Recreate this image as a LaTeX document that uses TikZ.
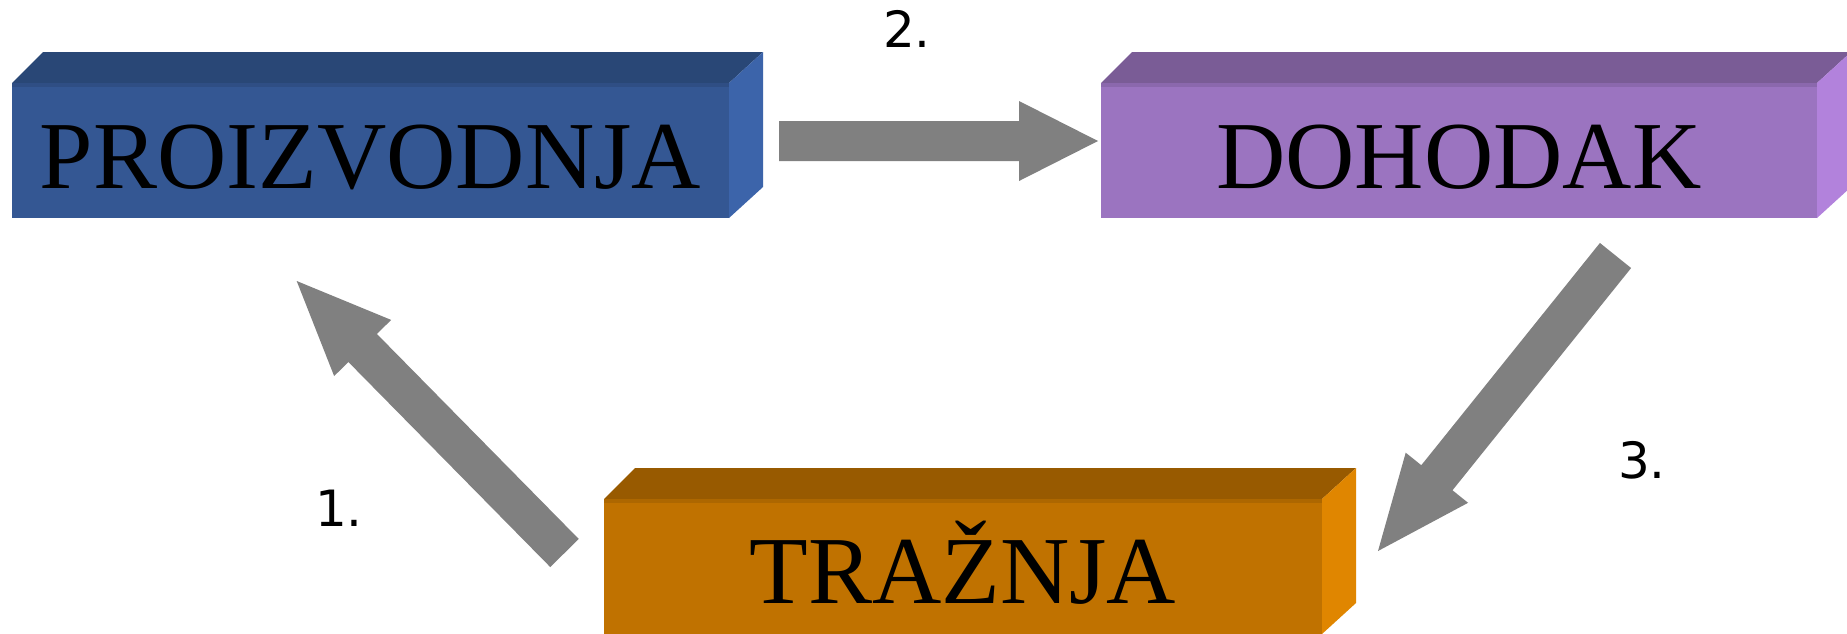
\documentclass[tikz,border=0pt]{standalone}
\usepackage{fontspec}
\setmainfont{Liberation Serif}
\newfontfamily\numfont{DejaVu Sans}
\usetikzlibrary{calc}
\definecolor{bluefront}{HTML}{345793}
\definecolor{bluetop}{HTML}{294776}
\definecolor{blueside}{HTML}{3C64AA}
\definecolor{violfront}{HTML}{9B74C0}
\definecolor{violtop}{HTML}{7A5C96}
\definecolor{violside}{HTML}{B282DC}
\definecolor{orfront}{HTML}{C07200}
\definecolor{ortop}{HTML}{985A00}
\definecolor{orside}{HTML}{E08600}
\definecolor{arrowgray}{HTML}{808080}
\tikzset{
  boxtext/.style={anchor=base, inner sep=0pt, font=\fontsize{96}{110}\selectfont},
  steplabel/.style={anchor=base, inner sep=0pt, font=\numfont\fontsize{50}{60}\selectfont},
  arrowfill/.style={fill=arrowgray},
}
% x0 y0 x1 y1 front top side
\newcommand\prism[7]{%
  \fill[#6] (#1,#2) -- (#1+31,#2-31) -- (#3+34,#2-31) -- (#3,#2) -- cycle;
  \fill[#5] (#1,#2) rectangle (#3,#4);
  \fill[#5!90!black] (#1,#2) rectangle (#3,#2+4);
  \fill[#7] (#3,#2) -- (#3+34,#2-31) -- (#3+34,#4-31) -- (#3,#4) -- cycle;
}
% tail, tip, head length
\newcommand\blockarrow[3]{%
  \coordinate (ba-base) at ($(#2)!#3!(#1)$);
  \fill[arrowfill] ($(#1)!20pt!90:(#2)$) -- ($(ba-base)!20pt!90:(#2)$)
    -- ($(ba-base)!40pt!90:(#2)$) -- (#2) -- ($(ba-base)!40pt!-90:(#2)$)
    -- ($(ba-base)!20pt!-90:(#2)$) -- ($(#1)!20pt!-90:(#2)$) -- cycle;
}
\begin{document}
\begin{tikzpicture}[x=1pt,y=-1pt]
  \useasboundingbox (0,0) rectangle (1847,633);
  \clip (0,0) rectangle (1847,633);
  \fill[white] (0,0) rectangle (1847,633);
  % boxes
  \prism{12}{83}{729}{218}{bluefront}{bluetop}{blueside}
  \prism{1101}{83}{1817}{218}{violfront}{violtop}{violside}
  \prism{604}{499}{1322}{634}{orfront}{ortop}{orside}
  \node[boxtext] (prod) at (370.5,188) {PROIZVODNJA};
  \node[boxtext] (doh) at (1459,188) {DOHODAK};
  \node[boxtext] (traz) at (963,603) {TRAŽNJA};
  % arrow end points
  \coordinate (a2s) at (779,141);
  \coordinate (a2e) at (1098,141);
  \coordinate (a3s) at (1615.5,255.5);
  \coordinate (a3e) at (1378,551);
  \coordinate (a1s) at (564.5,553);
  \coordinate (a1e) at (296.7,281);
  \blockarrow{a2s}{a2e}{79pt}
  \blockarrow{a3s}{a3e}{94pt}
  \blockarrow{a1s}{a1e}{94pt}
  % labels
  \node[steplabel] (l2) at (907,47) {2.};
  \node[steplabel] (l3) at (1642,478) {3.};
  \node[steplabel] (l1) at (339,526) {1.};
\end{tikzpicture}
\end{document}
